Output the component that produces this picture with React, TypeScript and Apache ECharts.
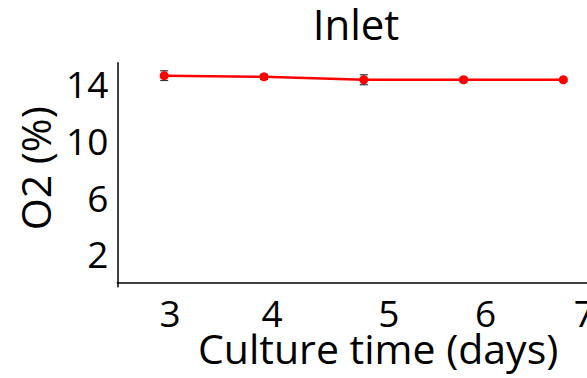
import React, { useEffect, useRef } from "react";
import * as echarts from "echarts";

// Data
const days = [3, 4, 5, 6, 7];
const o2Mean = [14.54, 14.46, 14.25, 14.25, 14.25];
const o2Err = [0.34, 0.18, 0.35, 0.16, 0.12];

// Tick labels (positions as printed in the reference figure)
const xTickLabels = ["3", "4", "5", "6", "7"];
const xTickPositions = [3.06, 4.08, 5.25, 6.22, 7.21];
const yTickValues = [2, 6, 10, 14];

const FONT = "Open Sans";

export default function App() {
  const ref = useRef<HTMLDivElement>(null);

  useEffect(() => {
    if (!ref.current) return;
    const chart = echarts.init(ref.current, undefined, { renderer: "svg" });

    const lineData = days.map((d, i) => [d, o2Mean[i]]);
    const errData = days.map((d, i) => [d, o2Mean[i] - o2Err[i], o2Mean[i] + o2Err[i]]);

    chart.setOption({
      animation: false,
      backgroundColor: "#ffffff",
      textStyle: { fontFamily: FONT, color: "#000" },
      title: {
        text: "Inlet",
        left: 351,
        top: -3,
        textAlign: "center",
        textStyle: { fontFamily: FONT, fontSize: 42, fontWeight: "normal", color: "#000" },
      },
      grid: {
        left: 117.3,
        right: 0,
        top: 62.7,
        bottom: 91.3,
        containLabel: false,
        outerBoundsMode: "none",
      },
      xAxis: {
        type: "value",
        min: 2.53,
        max: 7.237,
        name: "Culture time (days)",
        nameLocation: "middle",
        nameGap: 41,
        nameMoveOverlap: false,
        nameTextStyle: { fontFamily: FONT, fontSize: 41, color: "#000", padding: [0, 0, 0, 52] },
        axisLine: { show: true, lineStyle: { color: "#000", width: 1.5 } },
        axisTick: { show: false },
        splitLine: { show: false },
        axisLabel: {
          customValues: xTickPositions,
          fontFamily: FONT,
          fontSize: 37,
          color: "#000",
          margin: 7,
          formatter: (v: number) => {
            let best = 0;
            for (let i = 0; i < xTickPositions.length; i++) {
              if (Math.abs(xTickPositions[i] - v) < Math.abs(xTickPositions[best] - v)) best = i;
            }
            return xTickLabels[best];
          },
        },
      },
      yAxis: {
        type: "value",
        min: -0.3,
        max: 15.45,
        name: "O2 (%)",
        nameLocation: "middle",
        nameGap: 62,
        nameMoveOverlap: false,
        nameTextStyle: { fontFamily: FONT, fontSize: 41, color: "#000", padding: [0, 0, 0, 13] },
        axisLine: { show: true, lineStyle: { color: "#000", width: 1.5 } },
        axisTick: { show: false },
        splitLine: { show: false },
        axisLabel: {
          customValues: yTickValues,
          fontFamily: FONT,
          fontSize: 37,
          color: "#000",
          margin: 9,
        },
      },
      series: [
        {
          type: "custom",
          z: 1,
          data: errData,
          renderItem: (params: any, api: any) => {
            const x = api.value(0);
            const lo = api.coord([x, api.value(1)]);
            const hi = api.coord([x, api.value(2)]);
            const cap = 4;
            const style = { stroke: "#333", lineWidth: 1.2 };
            return {
              type: "group",
              children: [
                { type: "line", shape: { x1: lo[0], y1: lo[1], x2: hi[0], y2: hi[1] }, style },
                { type: "line", shape: { x1: lo[0] - cap, y1: lo[1], x2: lo[0] + cap, y2: lo[1] }, style },
                { type: "line", shape: { x1: hi[0] - cap, y1: hi[1], x2: hi[0] + cap, y2: hi[1] }, style },
              ],
            };
          },
        },
        {
          type: "line",
          z: 3,
          data: lineData,
          symbol: "circle",
          symbolSize: 9,
          lineStyle: { color: "#ff0000", width: 2.5 },
          itemStyle: { color: "#ff0000" },
        },
      ],
    });

    return () => chart.dispose();
  }, []);

  return (
    <div
      ref={ref}
      style={{ position: "fixed", left: 0, top: 0, width: 587, height: 378, background: "#fff" }}
    />
  );
}
